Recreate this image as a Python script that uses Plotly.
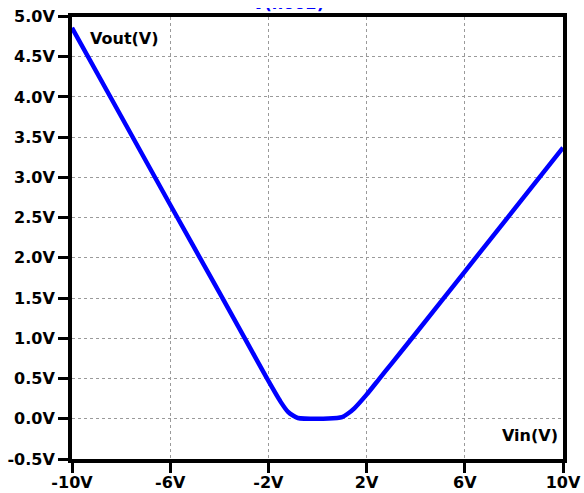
import plotly.graph_objects as go

# Data (LTspice-style transfer curve)
vin = [-10, -8, -6, -4, -3, -2.5, -2, -1.5, -1.2, -1.0, -0.8, 0, 0.8, 1.0, 1.2, 1.5, 2, 2.5, 3, 4, 6, 8, 10]
vout = [4.86, 3.76, 2.66, 1.57, 1.02, 0.745, 0.47, 0.21, 0.085, 0.04, 0.01, 0.0, 0.01, 0.02, 0.056, 0.13,
        0.30, 0.49, 0.68, 1.06, 1.83, 2.60, 3.37]

x_tickvals = [-10, -6, -2, 2, 6, 10]
x_ticktext = ["-10V", "-6V", "-2V", "2V", "6V", "10V"]
y_tickvals = [-0.5, 0.0, 0.5, 1.0, 1.5, 2.0, 2.5, 3.0, 3.5, 4.0, 4.5, 5.0]
y_ticktext = ["-0.5V", "0.0V", "0.5V", "1.0V", "1.5V", "2.0V", "2.5V", "3.0V", "3.5V", "4.0V", "4.5V", "5.0V"]

trace_title = "V(n002)"
y_label = "Vout(V)"
x_label = "Vin(V)"

W, H = 584, 493
ML, MR, MT, MB = 72, 21, 0, 34
PH = H - MT - MB
top_px = 16.5
main_top = (PH - top_px) / PH
clip_lo = (PH - 13) / PH
clip_hi = (PH - 8) / PH

font_family = "DejaVu Sans"
tick_font = dict(family=font_family, size=16, color="black", weight="bold")

fig = go.Figure()
fig.add_trace(go.Scatter(
    x=vin, y=vout, mode="lines",
    line=dict(color="#0000FF", width=4.5, shape="spline", smoothing=0.6),
    hoverinfo="skip", showlegend=False,
))
# partially hidden blue trace title above the frame
fig.add_trace(go.Scatter(
    x=[0.44], y=[0.0], mode="text", text=[trace_title],
    textposition="top center",
    textfont=dict(family=font_family, size=16, color="#0000FF", weight="bold"),
    xaxis="x2", yaxis="y2", cliponaxis=True, showlegend=False, hoverinfo="skip",
))

axis_common = dict(
    showline=True, linewidth=4, linecolor="black", mirror=True,
    ticks="outside", ticklen=10, tickwidth=3, tickcolor="black",
    showgrid=True, gridcolor="#9a9a9a", gridwidth=1, griddash="dot",
    zeroline=False, tickfont=tick_font, fixedrange=True, automargin=False,
)

fig.update_layout(
    width=W, height=H,
    margin=dict(l=ML, r=MR, t=MT, b=MB, pad=0),
    paper_bgcolor="white", plot_bgcolor="white",
    showlegend=False,
    xaxis=dict(range=[-10, 10], tickvals=x_tickvals, ticktext=x_ticktext, domain=[0, 1],
               ticklabelstandoff=-4, **axis_common),
    yaxis=dict(range=[-0.5, 5.0], tickvals=y_tickvals, ticktext=y_ticktext, domain=[0, main_top], **axis_common),
    xaxis2=dict(range=[0, 1], domain=[0, 1], anchor="y2", visible=False, automargin=False),
    yaxis2=dict(range=[0, 1], domain=[clip_lo, clip_hi], anchor="x2", visible=False, automargin=False),
    annotations=[
        dict(text=y_label, xref="paper", yref="paper", x=(88 - ML) / 491, y=(PH - 38) / PH,
             xanchor="left", yanchor="middle", showarrow=False,
             font=dict(family=font_family, size=16, color="black", weight="bold")),
        dict(text=x_label, xref="paper", yref="paper", x=(560 - ML) / 491, y=(PH - 435) / PH,
             xanchor="right", yanchor="middle", showarrow=False,
             font=dict(family=font_family, size=16, color="black", weight="bold")),
    ],
)

fig.write_html("out.html", config={"displayModeBar": False},
               post_script="document.body.style.margin='0px';document.body.style.padding='0px';")
